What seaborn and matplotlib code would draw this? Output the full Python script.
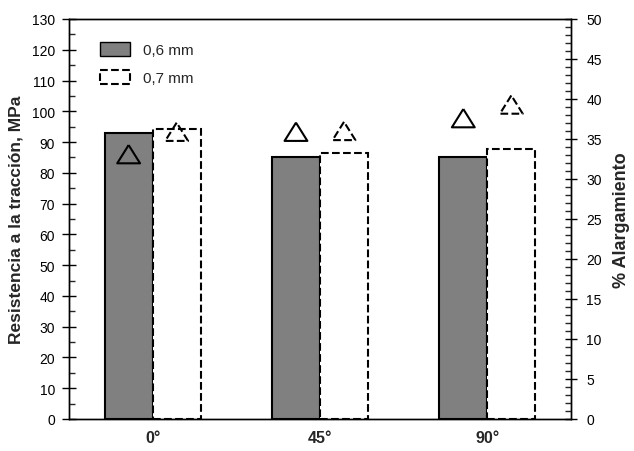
import numpy as np
import pandas as pd
import matplotlib
matplotlib.use('Agg')
import matplotlib.pyplot as plt
from matplotlib.patches import Patch
from matplotlib.ticker import MultipleLocator
import seaborn as sns

# data
angulos = ['0°', '45°', '90°']
espesores = ['0,6 mm', '0,7 mm']
resistencia_06 = [93.0, 85.3, 85.2]
resistencia_07 = [94.2, 86.4, 87.8]
alargamiento_06 = [33.1, 35.9, 37.6]
alargamiento_07 = [35.9, 36.0, 39.3]

df = pd.DataFrame({
    'angulo': angulos * 2,
    'espesor': [espesores[0]] * 3 + [espesores[1]] * 3,
    'resistencia': resistencia_06 + resistencia_07,
    'alargamiento': alargamiento_06 + alargamiento_07,
})

sns.set_style('ticks')
plt.rcParams['font.family'] = ['Liberation Sans', 'DejaVu Sans']
plt.rcParams['axes.edgecolor'] = 'black'
plt.rcParams['axes.linewidth'] = 1.0

fig, ax = plt.subplots(figsize=(6.34, 4.52), dpi=100)
fig.subplots_adjust(left=0.1088, right=0.9006, top=0.9558, bottom=0.0708)

sns.barplot(data=df, x='angulo', y='resistencia', hue='espesor', order=angulos,
            hue_order=espesores, palette={'0,6 mm': '#808080', '0,7 mm': 'white'},
            width=0.574, saturation=1, edgecolor='black', linewidth=1.5,
            legend=False, ax=ax)
for bar in ax.containers[1]:
    bar.set_linestyle('--')
    bar.set_facecolor('white')

ax.set_xlim(-0.5, 2.5)
ax.set_ylim(0, 130)
ax.yaxis.set_major_locator(MultipleLocator(10))
ax.yaxis.set_minor_locator(MultipleLocator(5))
ax.tick_params(axis='y', which='major', direction='inout', length=10, width=1,
               labelsize=10, pad=5, colors='black')
ax.tick_params(axis='y', which='minor', direction='in', length=4, width=1)
ax.tick_params(axis='x', length=0, pad=8)
for lab in ax.get_xticklabels():
    lab.set_fontweight('bold')
    lab.set_fontsize(11.5)
ax.set_xlabel('')
ax.set_ylabel('Resistencia a la tracción, MPa', fontsize=12.5, fontweight='bold', labelpad=6)

# secondary axis: elongation triangles on the bar centres
ax2 = ax.twinx()
tri = [(0, 0.8), (-1, -0.8), (1, -0.8), (0, 0.8)]
for cont, vals in zip(ax.containers, [alargamiento_06, alargamiento_07]):
    xs = [b.get_x() + b.get_width() / 2 for b in cont]
    ls = '-' if cont is ax.containers[0] else '--'
    ax2.scatter(xs, vals, marker=tri, s=270, facecolors='none', edgecolors='black',
                linewidths=1.5, linestyles=ls, zorder=5)
ax2.set_ylim(0, 50)
ax2.yaxis.set_major_locator(MultipleLocator(5))
ax2.yaxis.set_minor_locator(MultipleLocator(1))
ax2.tick_params(axis='y', which='major', direction='inout', length=8, width=1,
                labelsize=10, pad=7, colors='black')
ax2.tick_params(axis='y', which='minor', direction='in', length=4, width=1)
ax2.set_ylabel('% Alargamiento', fontsize=13, fontweight='bold', labelpad=8)

handles = [Patch(facecolor='#808080', edgecolor='black', linewidth=1),
           Patch(facecolor='white', edgecolor='black', linewidth=1.5, linestyle='--')]
ax.legend(handles, espesores, loc='upper left', bbox_to_anchor=(0.062, 0.9425),
          frameon=False, fontsize=11, handlelength=1.96, handleheight=1.06,
          labelspacing=0.82, handletextpad=0.85, borderpad=0, borderaxespad=0)

fig.savefig('out.png', dpi=100)
